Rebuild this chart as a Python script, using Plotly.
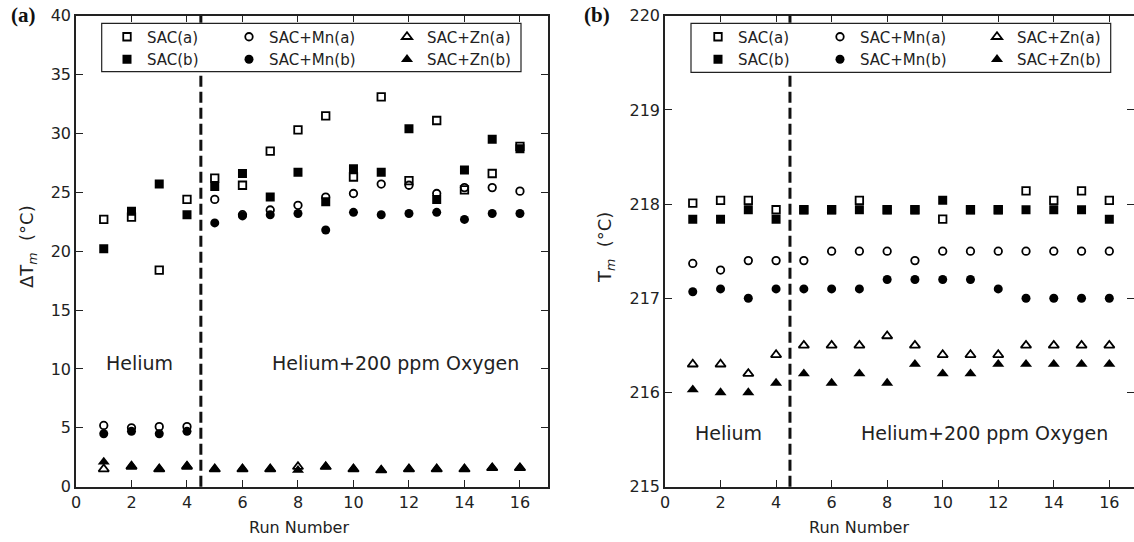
import plotly.graph_objects as go

W, H = 1134, 542

runs = list(range(1, 17))

# Panel (a): Delta T_m (°C)
dT_SAC_a = [22.7, 22.9, 18.4, 24.4, 26.2, 25.6, 28.5, 30.3, 31.5, 26.3, 33.1, 26.0, 31.1, 25.2, 26.6, 28.9]
dT_SAC_b = [20.2, 23.4, 25.7, 23.1, 25.5, 26.6, 24.6, 26.7, 24.2, 27.0, 26.7, 30.4, 24.4, 26.9, 29.5, 28.7]
dT_Mn_a = [5.2, 5.0, 5.1, 5.1, 24.4, 23.1, 23.5, 23.9, 24.6, 24.9, 25.7, 25.6, 24.9, 25.4, 25.4, 25.1]
dT_Mn_b = [4.5, 4.7, 4.5, 4.7, 22.4, 23.0, 23.1, 23.2, 21.8, 23.3, 23.1, 23.2, 23.3, 22.7, 23.2, 23.2]
dT_Zn_a = [1.5, 1.7, 1.5, 1.7, 1.5, 1.5, 1.5, 1.7, 1.7, 1.5, 1.4, 1.5, 1.5, 1.5, 1.6, 1.6]
dT_Zn_b = [2.1, 1.8, 1.5, 1.8, 1.5, 1.5, 1.5, 1.4, 1.7, 1.5, 1.4, 1.5, 1.5, 1.5, 1.6, 1.6]

# Panel (b): T_m (°C)
Tm_SAC_a = [218.01, 218.04, 218.04, 217.94, 217.94, 217.94, 218.04, 217.94, 217.94, 217.84, 217.94, 217.94, 218.14, 218.04, 218.14, 218.04]
Tm_SAC_b = [217.84, 217.84, 217.94, 217.84, 217.94, 217.94, 217.94, 217.94, 217.94, 218.04, 217.94, 217.94, 217.94, 217.94, 217.94, 217.84]
Tm_Mn_a = [217.37, 217.30, 217.40, 217.40, 217.40, 217.50, 217.50, 217.50, 217.40, 217.50, 217.50, 217.50, 217.50, 217.50, 217.50, 217.50]
Tm_Mn_b = [217.07, 217.10, 217.00, 217.10, 217.10, 217.10, 217.10, 217.20, 217.20, 217.20, 217.20, 217.10, 217.00, 217.00, 217.00, 217.00]
Tm_Zn_a = [216.30, 216.30, 216.20, 216.40, 216.50, 216.50, 216.50, 216.60, 216.50, 216.40, 216.40, 216.40, 216.50, 216.50, 216.50, 216.50]
Tm_Zn_b = [216.03, 216.00, 216.00, 216.10, 216.20, 216.10, 216.20, 216.10, 216.30, 216.20, 216.20, 216.30, 216.30, 216.30, 216.30, 216.30]

x_ticks = [0, 2, 4, 6, 8, 10, 12, 14, 16]
yA_ticks = [0, 5, 10, 15, 20, 25, 30, 35, 40]
yB_ticks = [215, 216, 217, 218, 219, 220]
split_run = 4.5

def px(x):
    return x / W

def py(y):
    return 1 - y / H

FONT = "DejaVu Sans"
TXT = "#222222"

series_style = [
    ("SAC(a)", "square-open", 0),
    ("SAC(b)", "square", 0),
    ("SAC+Mn(a)", "circle-open", 1),
    ("SAC+Mn(b)", "circle", 1),
    ("SAC+Zn(a)", "triangle-up-open", 2),
    ("SAC+Zn(b)", "triangle-up", 2),
]

dataA = [dT_SAC_a, dT_SAC_b, dT_Mn_a, dT_Mn_b, dT_Zn_a, dT_Zn_b]
dataB = [Tm_SAC_a, Tm_SAC_b, Tm_Mn_a, Tm_Mn_b, Tm_Zn_a, Tm_Zn_b]

fig = go.Figure()

def add_series(data, xa, ya, legend_base):
    for (name, sym, col), vals in zip(series_style, data):
        is_open = sym.endswith("open")
        tri = sym.startswith("triangle")
        if is_open:
            size = 9 if tri else 7.5
        else:
            size = 10.5 if tri else 9
        fig.add_trace(go.Scatter(
            x=runs, y=vals, mode="markers", name=name,
            xaxis=xa, yaxis=ya,
            legend=legend_base[col],
            marker=dict(symbol=sym, size=size, color="black",
                        line=dict(width=1.8 if is_open else 0, color="black")),
        ))

add_series(dataA, "x", "y", ["legend", "legend2", "legend3"])
add_series(dataB, "x2", "y2", ["legend4", "legend5", "legend6"])

# dummy trace for the right-side tick overlay on panel (b)
fig.add_trace(go.Scatter(x=[None], y=[None], xaxis="x2", yaxis="y3",
                         showlegend=False, hoverinfo="skip"))

ydom = [py(486.7), py(15.7)]
axis_common = dict(showgrid=False, zeroline=False, ticks="inside", ticklen=7,
                   tickwidth=1.3, tickcolor="#222", showline=True, linewidth=1.5,
                   linecolor="#222", tickfont=dict(family=FONT, size=16, color=TXT))

fig.update_layout(
    width=W, height=H,
    margin=dict(l=0, r=0, t=0, b=0, autoexpand=False),
    paper_bgcolor="white", plot_bgcolor="white",
    showlegend=True,
    xaxis=dict(domain=[px(76), px(547.7)], range=[0, 17], tickvals=x_ticks,
               mirror="ticks", anchor="y", **axis_common),
    yaxis=dict(domain=ydom, range=[0, 40], tickvals=yA_ticks, mirror="ticks",
               anchor="x", **axis_common),
    xaxis2=dict(domain=[px(665), 1.0], range=[0, (W - 665) / 27.77], tickvals=x_ticks,
                mirror="ticks", anchor="y2", **axis_common),
    yaxis2=dict(domain=ydom, range=[215, 220], tickvals=yB_ticks, mirror=False,
                anchor="x2", **axis_common),
    yaxis3=dict(overlaying="y2", side="right", anchor="x2", range=[215, 220],
                tickvals=yB_ticks, ticks="inside", ticklen=7, tickwidth=1.3,
                tickcolor="#222", showticklabels=False, showline=False,
                showgrid=False, zeroline=False),
)

# legends: three columns per panel
leg_font = dict(family=FONT, size=15, color=TXT)
colsA = [123, 245, 403]
colsB = [714, 836, 993]
for i, cx in enumerate(colsA + colsB):
    key = "legend" if i == 0 else f"legend{i + 1}"
    fig.update_layout({key: dict(
        x=px(cx - 16), y=py(20.5), xanchor="left", yanchor="top",
        orientation="v", font=leg_font, bgcolor="rgba(0,0,0,0)",
        borderwidth=0, itemwidth=30, tracegroupgap=0,
    )})

shapes = []
for xr in ["x", "x2"]:
    yr = "y domain" if xr == "x" else "y2 domain"
    shapes.append(dict(type="line", xref=xr, yref=yr, x0=split_run, x1=split_run,
                       y0=0, y1=1, line=dict(color="#111", width=3, dash="11px,5px")))
# legend frames
shapes.append(dict(type="rect", xref="paper", yref="paper",
                   x0=px(101.7), x1=px(521), y0=py(71.7), y1=py(23.3),
                   line=dict(color="#222", width=1.2), fillcolor="white", layer="above"))
shapes.append(dict(type="rect", xref="paper", yref="paper",
                   x0=px(691), x1=px(1110.7), y0=py(72.3), y1=py(23.3),
                   line=dict(color="#222", width=1.2), fillcolor="white", layer="above"))
fig.update_layout(shapes=shapes)

ann_font = dict(family=FONT, size=19, color=TXT)
label_font = dict(family=FONT, size=18, color=TXT)
annotations = [
    dict(text="Helium", x=1.0, y=10.5, xref="x", yref="y", xanchor="left",
         yanchor="middle", showarrow=False, font=ann_font),
    dict(text="Helium+200 ppm Oxygen", x=7.0, y=10.5, xref="x", yref="y",
         xanchor="left", yanchor="middle", showarrow=False, font=ann_font),
    dict(text="Helium", x=1.0, y=215.57, xref="x2", yref="y2", xanchor="left",
         yanchor="middle", showarrow=False, font=ann_font),
    dict(text="Helium+200 ppm Oxygen", x=7.0, y=215.57, xref="x2", yref="y2",
         xanchor="left", yanchor="middle", showarrow=False, font=ann_font),
    dict(text="<b>(a)</b>", x=px(23), y=py(15), xref="paper", yref="paper",
         showarrow=False, font=dict(family="Liberation Serif", size=21, color="#111"),
         xanchor="center", yanchor="middle"),
    dict(text="<b>(b)</b>", x=px(597), y=py(15), xref="paper", yref="paper",
         showarrow=False, font=dict(family="Liberation Serif", size=21, color="#111"),
         xanchor="center", yanchor="middle"),
    dict(text="ΔT<sub><i>m</i></sub>&nbsp;&nbsp;(°C)", x=px(28), y=py(247),
         xref="paper", yref="paper", textangle=-90, showarrow=False,
         xanchor="center", yanchor="middle", font=label_font),
    dict(text="T<sub><i>m</i></sub>&nbsp;&nbsp;(°C)", x=px(606), y=py(248),
         xref="paper", yref="paper", textangle=-90, showarrow=False,
         xanchor="center", yanchor="middle", font=label_font),
    dict(text="Run Number", x=px(299), y=py(527), xref="paper", yref="paper",
         xanchor="center", yanchor="middle", showarrow=False,
         font=dict(family=FONT, size=16, color=TXT)),
    dict(text="Run Number", x=px(859), y=py(527), xref="paper", yref="paper",
         xanchor="center", yanchor="middle", showarrow=False,
         font=dict(family=FONT, size=16, color=TXT)),
]
fig.update_layout(annotations=annotations)

fig.write_html("out.html")
